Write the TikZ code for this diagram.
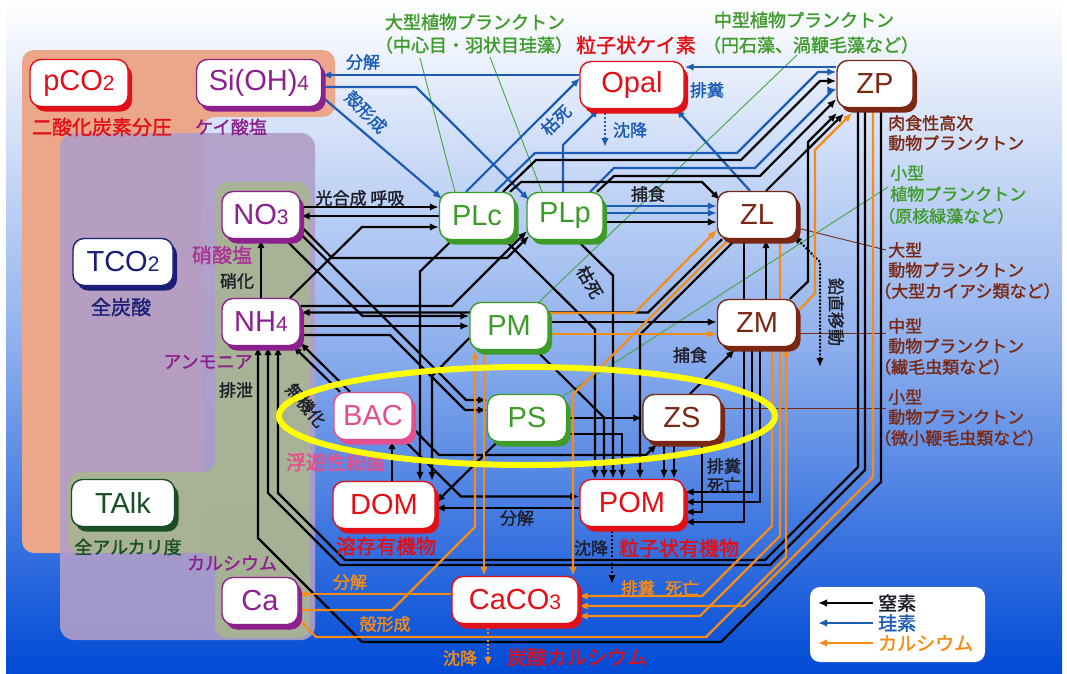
\documentclass[tikz,border=0pt]{standalone}
\usepackage{fontspec}
\setmainfont{Liberation Sans}
\newfontfamily\jp[AutoFakeBold=1.5]{Noto Sans CJK JP}
\usetikzlibrary{arrows.meta,shadows}
\pgfdeclarelayer{bg}
\pgfdeclarelayer{lines}
\pgfdeclarelayer{fg}
\pgfsetlayers{bg,lines,main,fg}
\definecolor{cred}{RGB}{226,16,22}
\definecolor{cpur}{RGB}{140,32,140}
\definecolor{cmag}{RGB}{170,50,150}
\definecolor{cnavy}{RGB}{26,30,118}
\definecolor{cdkg}{RGB}{26,78,38}
\definecolor{cgrn}{RGB}{62,155,42}
\definecolor{cbrn}{RGB}{122,40,20}
\definecolor{cpink}{RGB}{228,78,140}
\definecolor{cblue}{RGB}{28,92,180}
\definecolor{corg}{RGB}{246,140,22}
\definecolor{cdark}{RGB}{30,30,40}
\definecolor{csalmon}{RGB}{236,166,138}
\definecolor{cpurbg}{RGB}{176,158,200}
\definecolor{colive}{RGB}{168,180,146}
\definecolor{bgtop}{RGB}{255,255,255}
\definecolor{bgmid}{RGB}{145,178,238}
\definecolor{bgbot}{RGB}{0,74,214}
\definecolor{cyel}{RGB}{255,255,0}
\definecolor{cgrnline}{RGB}{70,165,60}
\newcommand\smd[1]{{\fontsize{21}{21}\selectfont #1}}
\tikzset{
  box/.style={rounded corners=11pt, draw=#1, line width=1.4pt, fill=white, text=#1,
    inner sep=0pt, minimum height=47pt, font=\fontsize{29}{29}\selectfont,
    drop shadow={shadow xshift=4pt, shadow yshift=-5pt, fill=#1, opacity=1}},
  tip/.style={-{Latex[length=9pt,width=7.5pt]}},
  nit/.style={draw=black, line width=2.2pt, tip},
  sil/.style={draw=cblue, line width=2.2pt, tip},
  cal/.style={draw=corg, line width=2.2pt, tip},
  lab/.style={font=\jp\bfseries\fontsize{17}{17}\selectfont, inner sep=0pt},
  ttl/.style={font=\jp\bfseries\fontsize{18}{18}\selectfont, inner sep=0pt},
  big/.style={font=\jp\bfseries\fontsize{20}{20}\selectfont, inner sep=0pt},
  side/.style={font=\jp\bfseries\fontsize{17}{17}\selectfont, inner sep=0pt, anchor=west},
  lead/.style={line width=0.9pt},
  vert/.style={line width=2pt, dash pattern=on 2pt off 1.6pt},
}
\begin{document}
\begin{tikzpicture}[x=1pt,y=-1pt]
\useasboundingbox (0,0) rectangle (1067,673);
\begin{pgfonlayer}{bg}
\fill[white] (0,0) rectangle (1067,673);
\shade[top color=bgtop, bottom color=bgbot, middle color=bgmid] (6,0) rectangle (1062,673);
\fill[csalmon, rounded corners=12pt] (22,50) -- (335,50) -- (335,117) -- (203,117) -- (203,553) -- (22,553) -- cycle;
\fill[cpurbg, opacity=0.9, rounded corners=14pt] (60,133) rectangle (315,640);
\fill[colive, opacity=0.92, rounded corners=12pt] (215,182) -- (310,182) -- (310,638) -- (215,638) -- (215,553) -- (68,553) -- (68,472) -- (215,472) -- cycle;
\end{pgfonlayer}

% ---------------- nodes
\node[box=cred, minimum width=98pt] (pCO2) at (79,83) {pCO\smd{2}};
\node[box=cpur, minimum width=125pt] (Si) at (259,83) {Si(OH)\smd{4}};
\node[box=cnavy, minimum width=100pt] (TCO2) at (123,262) {TCO\smd{2}};
\node[box=cdkg, minimum width=103pt] (TAlk) at (123,503) {TAlk};
\node[box=cpur, minimum width=78pt] (NO3) at (261,215) {NO\smd{3}};
\node[box=cpur, minimum width=78pt] (NH4) at (261,322) {NH\smd{4}};
\node[box=cpur, minimum width=76pt] (Ca) at (260,601) {Ca};
\node[box=cgrn, minimum width=75pt] (PLc) at (477,216) {PLc};
\node[box=cgrn, minimum width=76pt] (PLp) at (565,216) {PLp};
\node[box=cgrn, minimum width=78pt] (PM) at (509,326) {PM};
\node[box=cgrn, minimum width=79pt] (PS) at (527,418) {PS};
\node[box=cbrn, minimum width=79pt] (ZL) at (757,215) {ZL};
\node[box=cbrn, minimum width=79pt] (ZM) at (757,323) {ZM};
\node[box=cbrn, minimum width=78pt] (ZS) at (682,418) {ZS};
\node[box=cbrn, minimum width=76pt] (ZP) at (875,84) {ZP};
\node[box=cred, minimum width=104pt] (Opal) at (632,85) {Opal};
\node[box=cpink, minimum width=78pt] (BAC) at (373,416) {BAC};
\node[box=cred, minimum width=102pt] (DOM) at (384,505) {DOM};
\node[box=cred, minimum width=104pt] (POM) at (632,503) {POM};
\node[box=cred, minimum width=126pt] (CaCO3) at (515,600) {CaCO\smd{3}};

% ---------------- connectors
\begin{pgfonlayer}{lines}
% leader lines
\draw[lead, cgrnline] (420,58) -- (455,192);
\draw[lead, cgrnline] (490,57) -- (542,192);
\draw[lead, cgrnline] (797,55) -- (538,303);
\draw[lead, cgrnline] (888,187) -- (563,396);
\draw[lead, cbrn] (ZL.east|-0,228) -- (886,250);
\draw[lead, cbrn] (ZM.east|-0,333) -- (886,333);
\draw[lead, cbrn] (ZS.east|-0,408) -- (886,408);
% silicon
\draw[sil] (Opal.west|-0,75) -- (Si.east|-0,75);
\draw[sil] (Si.east|-0,87) -- (416,87) -- (529,200);
\draw[sil] (Si.east|-0,97) -- (442,199);
\draw[sil] (PLc.north-|466,0) -- (580,78);
\draw[sil] (PLp.north-|563,0) -- (563,145) -- (599,109);
\draw[sil] (ZL.north-|750,0) -- (676,109);
\draw[sil] (ZP.west|-0,67) -- (Opal.east|-0,67);
\draw[sil] (PLc.north-|495,0) -- (535,153) -- (737,153) -- (818,72) -- (ZP.west|-0,72);
\draw[sil] (PLp.north-|590,0) -- (614,168) -- (755,168) -- (833,90) -- (ZP.west|-0,90);
\draw[sil] (PLp.east|-0,206) -- (ZL.west|-0,206);
\draw[sil] (PLp.east|-0,213) -- (ZL.west|-0,213);
\draw[sil, dash pattern=on 2pt off 2pt] (Opal.south-|605,0) -- (605,147);
% nitrogen
\draw[nit] (PLc.north-|503,0) -- (536,160) -- (741,160) -- (820,81) -- (ZP.west|-0,81);
\draw[nit] (PLp.north-|597,0) -- (614,176) -- (760,176) -- (ZP.west|-0,99);
\draw[nit] (PLc.north-|510,0) -- (521,182) -- (702,182) -- (720,200);
\draw[nit] (PLp.east|-0,222) -- (ZL.west|-0,222);
\draw[nit] (NO3.east|-0,207) -- (PLc.west|-0,207);
\draw[nit] (PLc.west|-0,216) -- (NO3.east|-0,216);
\draw[nit] (NH4.north-|290,0) -- (362,227) -- (PLc.west|-0,227);
\draw[nit] (NO3.east|-0,226) -- (332,258) -- (507,258) -- (529,236);
\draw[nit] (NH4.east|-0,306) -- (452,306) -- (527,231);
\draw[nit] (ZL.south-|722,0) -- (648,312.5) -- (NH4.east|-0,312.5);
\draw[nit] (NO3.south-|285,0) -- (362.5,316) -- (PM.west|-0,316);
\draw[nit] (NH4.east|-0,326) -- (PM.west|-0,326);
\draw[nit] (NO3.east|-0,234) -- (466,400) -- (PS.west|-0,400);
\draw[nit] (NH4.east|-0,335) -- (390,335) -- (465,410) -- (PS.west|-0,410);
\draw[nit] (NH4.north) -- (NO3.south);
\draw[nit] (BAC.north-|340,0) -- (293,346);
\draw[nit] (BAC.north-|350,0) -- (300,342.5);
\draw[nit] (PLc.south-|452,0) -- (420,271.5) -- (DOM.north-|420,0);
\draw[nit] (PLc.south-|505,0) -- (595,329.5) -- (POM.north-|595,0);
\draw[nit] (PLp.south-|577,0) -- (613,275.5) -- (POM.north-|613,0);
\draw[nit] (PM.west|-0,338) -- (432,376) -- (DOM.north-|432,0);
\draw[nit] (PM.south-|536,0) -- (604,417.5) -- (POM.north-|604,0);
\draw[nit] (PS.east|-0,434) -- (622,434) -- (POM.north-|622,0);
\draw[nit] (ZL.south-|736,0) -- (640,334.5) -- (POM.north-|640,0);
\draw[nit] (PS.east|-0,418) -- (ZS.west|-0,418);
\draw[nit] (BAC.east|-0,428) -- (439,455) -- (646,455) -- (657,444);
\draw[nit] (DOM.north-|392,0) -- (BAC.south-|392,0);
\draw[nit] (BAC.south-|404,0) -- (461,496.5) -- (POM.west|-0,496.5);
\draw[nit] (POM.west|-0,508) -- (DOM.east|-0,508);
\draw[nit] (PS.south-|497,0) -- (436,502.5);
\draw[nit] (PM.east|-0,322) -- (ZM.west|-0,322);
\draw[nit] (ZS.north-|690,0) -- (735,349.5);
\draw[nit] (ZM.south-|752,0) -- (752,492) -- (POM.east|-0,492);
\draw[nit] (ZM.south-|760,0) -- (760,502) -- (POM.east|-0,502);
\draw[nit] (ZS.south-|664,0) -- (POM.north-|664,0);
\draw[nit] (ZS.south-|674,0) -- (POM.north-|674,0);
\draw[nit] (ZS.south-|702,0) -- (702,512) -- (POM.east|-0,512);
\draw[nit] (ZL.south-|744,0) -- (744,522) -- (POM.east|-0,522);
\draw[nit] (ZM.north-|766,0) -- (ZL.south-|766,0);
\draw[nit] (ZM.north-|790,0) -- (808,281.5) -- (808,142) -- (837,113);
\draw[nit] (ZL.north-|766,0) -- (844,113.5);
\draw[nit] (ZP.south-|881,0) -- (881,482) -- (721,642) -- (362,642) -- (258,538) -- (NH4.south-|258,0);
\draw[nit] (ZP.south-|865,0) -- (865,470) -- (770,565) -- (340,565) -- (268,493) -- (NH4.south-|268,0);
\draw[nit] (ZP.south-|858,0) -- (858,467) -- (765,560) -- (345,560) -- (278,493) -- (NH4.south-|278,0);
\draw[vert, {Latex[length=9pt,width=7.5pt]}-{Latex[length=9pt,width=7.5pt]}] (820,367) -- (820,262) -- ([xshift=-4pt,yshift=4pt]ZL.south east);
\draw[nit, dash pattern=on 2pt off 2pt] (POM.south-|612,0) -- (612,584);
% calcium
\draw[cal] (PM.east|-0,334) -- (ZM.west|-0,334);
\draw[cal] (PM.east|-0,313) -- (634.5,313) -- (ZL.west|-0,230);
\draw[cal] (ZL.south-|729,0) -- (573,394.5) -- (CaCO3.north-|573,0);
\draw[cal] (ZM.east|-0,312) -- (815,293.5) -- (815,150) -- (852,113);
\draw[cal] (ZM.south-|772,0) -- (772,526) -- (702,596) -- (CaCO3.east|-0,596);
\draw[cal] (ZL.south-|780,0) -- (780,536) -- (700,616) -- (CaCO3.east|-0,616);
\draw[cal] (ZP.south-|873,0) -- (873,477) -- (744,606) -- (CaCO3.east|-0,606);
\draw[cal] (Ca.east|-0,619) -- (316,637) -- (706,637) -- (786,557) -- (ZM.south-|786,0);
\draw[cal] (Ca.east|-0,610) -- (392,610) -- (475,527) -- (PM.south-|475,0);
\draw[cal] (PM.south-|484,0) -- (CaCO3.north-|484,0);
\draw[cal] (CaCO3.west|-0,594) -- (Ca.east|-0,594);
\draw[cal, dash pattern=on 2pt off 2pt] (CaCO3.south-|488,0) -- (488,666);
\end{pgfonlayer}

% ---------------- labels
\node[big, text=cred] (t1) at (102,127) {二酸化炭素分圧};
\node[ttl, text=cpur] (t2) at (231,127) {ケイ酸塩};
\node[big, text=cnavy] (t3) at (121,307) {全炭酸};
\node[big, text=cmag] (t4) at (222,255) {硝酸塩};
\node[lab, text=cdark] (t5) at (237,281) {硝化};
\node[ttl, text=cpur] (t6) at (208,362) {アンモニア};
\node[lab, text=cdark] (t7) at (236,390) {排泄};
\node[lab, text=cdark, rotate=-50] (t8) at (306,405) {無機化};
\node[big, text=cpink] (t9) at (336,462) {浮遊性細菌};
\node[big, text=cred] (t10) at (386,546) {溶存有機物};
\node[lab, text=cdark] (t11) at (517,518) {分解};
\node[lab, text=cdark] (t12) at (591,548) {沈降};
\node[big, text=cred] (t13) at (679,548) {粒子状有機物};
\node[lab, text=corg] (t14) at (660,588) {排糞\hspace{0.6em}死亡};
\node[lab, text=cdark] (t15) at (724,466) {排糞};
\node[lab, text=cdark] (t16) at (724,485) {死亡};
\node[ttl, text=cpur] (t17) at (232,563) {カルシウム};
\node[ttl, text=cdkg] (t18) at (128,547) {全アルカリ度};
\node[lab, text=corg] (t19) at (350,582) {分解};
\node[lab, text=corg] (t20) at (385,624) {殻形成};
\node[lab, text=corg] (t21) at (460,658) {沈降};
\node[big, text=cred] (t22) at (577,657) {炭酸カルシウム};
\node[ttl, text=cgrn] (t23) at (475,22) {大型植物プランクトン};
\node[ttl, text=cgrn] (t24) at (474,45) {（中心目・羽状目珪藻）};
\node[big, text=cred] (t25) at (636,45) {粒子状ケイ素};
\node[ttl, text=cgrn] (t26) at (804,20) {中型植物プランクトン};
\node[ttl, text=cgrn] (t27) at (811,45) {（円石藻、渦鞭毛藻など）};
\node[lab, text=cblue] (t28) at (707,90) {排糞};
\node[lab, text=cblue] (t29) at (363,62) {分解};
\node[lab, text=cblue, rotate=-45] (t30) at (366,112) {殻形成};
\node[lab, text=cblue, rotate=45] (t31) at (556,120) {枯死};
\node[lab, text=cblue] (t32) at (630,130) {沈降};
\node[lab, text=cdark] (t33) at (360,198) {光合成 呼吸};
\node[lab, text=cdark] (t34) at (648,194) {捕食};
\node[lab, text=cdark, rotate=-60] (t35) at (590,282) {枯死};
\node[lab, text=cdark] (t36) at (690,355) {捕食};
\node[lab, text=cdark, rotate=-90] (t37) at (836,312) {鉛直移動};
\node[side, text=cbrn] (s1) at (888,123) {肉食性高次};
\node[side, text=cbrn] (s2) at (888,143) {動物プランクトン};
\node[side, text=cgrn] (s3) at (890,173) {小型};
\node[side, text=cgrn] (s4) at (890,194) {植物プランクトン};
\node[side, text=cgrn] (s5) at (878,216) {（原核緑藻など）};
\node[side, text=cbrn] (s6) at (888,250) {大型};
\node[side, text=cbrn] (s7) at (888,270) {動物プランクトン};
\node[side, text=cbrn] (s8) at (874,291) {（大型カイアシ類など）};
\node[side, text=cbrn] (s9) at (888,326) {中型};
\node[side, text=cbrn] (s10) at (888,346) {動物プランクトン};
\node[side, text=cbrn] (s11) at (874,367) {（繊毛虫類など）};
\node[side, text=cbrn] (s12) at (888,397) {小型};
\node[side, text=cbrn] (s13) at (888,417) {動物プランクトン};
\node[side, text=cbrn] (s14) at (874,438) {（微小鞭毛虫類など）};

\begin{pgfonlayer}{fg}
\draw[cyel, line width=6pt] (527,416) ellipse [x radius=248pt, y radius=49pt];
\node[fill=white, rounded corners=10pt, minimum width=175pt, minimum height=75pt, inner sep=0pt] (leg) at (897.5,624.5) {};
\coordinate (la1) at (873,603); \coordinate (lb1) at (818,603);
\coordinate (la2) at (873,623); \coordinate (lb2) at (818,623);
\coordinate (la3) at (873,643); \coordinate (lb3) at (818,643);
\draw[nit] (la1) -- (lb1);
\draw[sil] (la2) -- (lb2);
\draw[cal] (la3) -- (lb3);
\node[font=\jp\bfseries\fontsize{19}{19}\selectfont, inner sep=0pt, anchor=west, text=cdark] (lg1) at (878,603) {窒素};
\node[font=\jp\bfseries\fontsize{19}{19}\selectfont, inner sep=0pt, anchor=west, text=cblue] (lg2) at (878,623) {珪素};
\node[font=\jp\bfseries\fontsize{19}{19}\selectfont, inner sep=0pt, anchor=west, text=corg] (lg3) at (878,643) {カルシウム};
\end{pgfonlayer}
\end{tikzpicture}
\end{document}
